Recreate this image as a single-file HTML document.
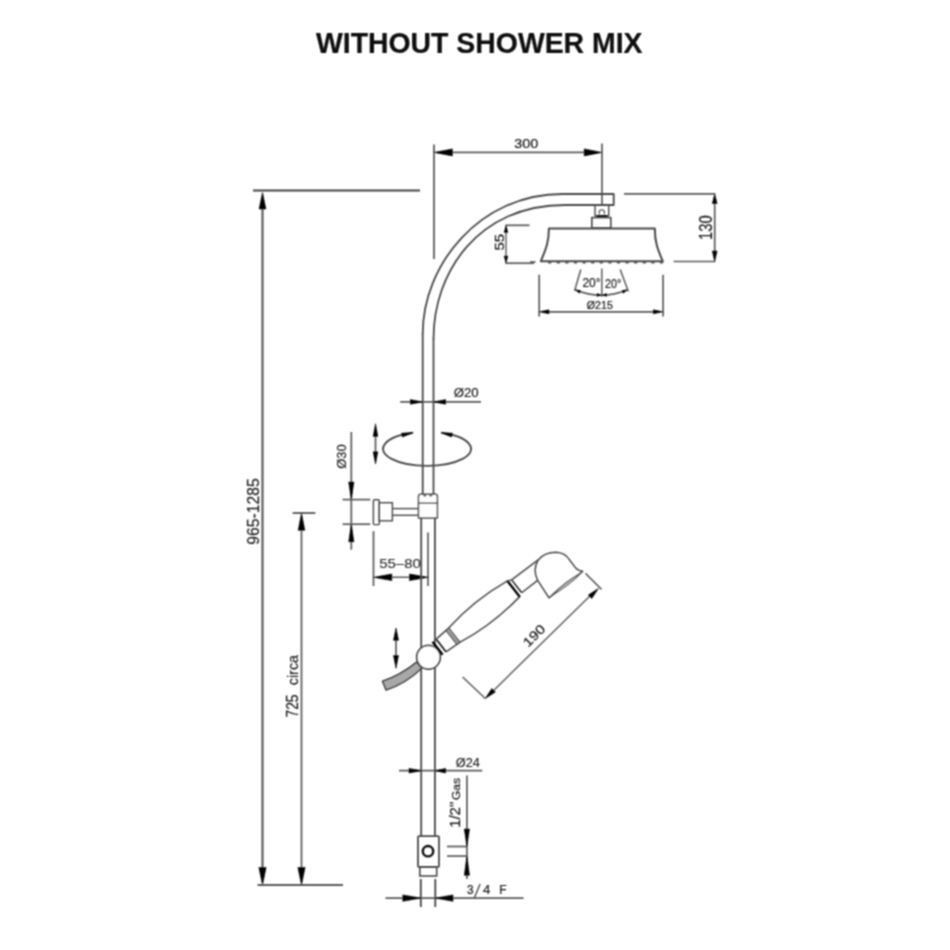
<!DOCTYPE html>
<html><head><meta charset="utf-8"><style>
html,body{margin:0;padding:0;background:#fff;width:950px;height:950px;overflow:hidden}
svg{display:block;font-family:"Liberation Sans",sans-serif}
</style></head><body>
<svg width="950" height="950" viewBox="0 0 950 950">
<rect width="950" height="950" fill="#fff"/>
<defs><filter id="sb" x="0" y="0" width="950" height="950" filterUnits="userSpaceOnUse"><feConvolveMatrix order="3" kernelMatrix="1 2 1 2 4 2 1 2 1" divisor="16" preserveAlpha="false"/></filter></defs>
<g filter="url(#sb)">
<text x="316" y="53" font-size="29.5" fill="#0a0a0a" text-anchor="start" font-weight="bold" font-style="normal" stroke="#0a0a0a" stroke-width="0.15" textLength="326.5" lengthAdjust="spacingAndGlyphs">WITHOUT SHOWER MIX</text>
<line x1="253" y1="190.5" x2="420" y2="190.5" stroke="#444" stroke-width="1.8"/>
<line x1="262.5" y1="200" x2="262.5" y2="875" stroke="#5c5c5c" stroke-width="2.2"/>
<polygon points="262.50,192.50 259.10,209.00 265.90,209.00" fill="#000" stroke="#000" stroke-width="0.6" stroke-linejoin="round"/>
<polygon points="262.50,885.00 266.10,867.40 258.90,867.40" fill="#000" stroke="#000" stroke-width="0.6" stroke-linejoin="round"/>
<line x1="257.5" y1="885" x2="343" y2="885" stroke="#5c5c5c" stroke-width="2.0"/>
<text x="258.9" y="511.5" font-size="17" fill="#1a1a1a" text-anchor="middle" font-weight="normal" font-style="normal" stroke="#1a1a1a" stroke-width="0.15" transform="rotate(-90 258.9 511.5)" textLength="66.3" lengthAdjust="spacingAndGlyphs">965-1285</text>
<line x1="292.6" y1="513" x2="315.4" y2="513" stroke="#5c5c5c" stroke-width="1.9"/>
<line x1="301.5" y1="525" x2="301.5" y2="875" stroke="#5a5a5a" stroke-width="1.7"/>
<polygon points="301.50,513.00 298.20,530.30 304.80,530.30" fill="#000" stroke="#000" stroke-width="0.6" stroke-linejoin="round"/>
<polygon points="301.50,885.00 305.10,867.40 297.90,867.40" fill="#000" stroke="#000" stroke-width="0.6" stroke-linejoin="round"/>
<text x="297.8" y="717.6" font-size="16" fill="#1a1a1a" text-anchor="start" font-weight="normal" font-style="normal" stroke="#1a1a1a" stroke-width="0.15" transform="rotate(-90 297.8 717.6)" textLength="23.2" lengthAdjust="spacingAndGlyphs">725</text>
<text x="297.8" y="685.2" font-size="14.5" fill="#1a1a1a" text-anchor="start" font-weight="normal" font-style="normal" stroke="#1a1a1a" stroke-width="0.15" transform="rotate(-90 297.8 685.2)" textLength="30.2" lengthAdjust="spacingAndGlyphs">circa</text>
<line x1="434" y1="144.5" x2="434" y2="259" stroke="#666" stroke-width="1.9"/>
<line x1="602" y1="143.5" x2="602" y2="205" stroke="#5c5c5c" stroke-width="1.7"/>
<line x1="440" y1="152.4" x2="596" y2="152.4" stroke="#5c5c5c" stroke-width="1.7"/>
<polygon points="434.00,152.40 452.40,155.90 452.40,148.90" fill="#000" stroke="#000" stroke-width="0.6" stroke-linejoin="round"/>
<polygon points="602.00,152.40 584.20,148.90 584.20,155.90" fill="#000" stroke="#000" stroke-width="0.6" stroke-linejoin="round"/>
<text x="526.3" y="148.3" font-size="13.5" fill="#1a1a1a" text-anchor="middle" font-weight="normal" font-style="normal" stroke="#1a1a1a" stroke-width="0.2" textLength="24" lengthAdjust="spacingAndGlyphs">300</text>
<path d="M 422.7 334.2 C 422.7 264 480.2 194 562.2 194 L 613.7 194 L 613.7 205 L 564.8 205 C 478.3 205 433.5 272.1 433.5 338.9" stroke="#4a4a4a" stroke-width="1.8" fill="none" stroke-linejoin="round" />
<line x1="422.7" y1="333.5" x2="422.7" y2="494.5" stroke="#4a4a4a" stroke-width="1.8"/>
<line x1="433.5" y1="338.2" x2="433.5" y2="494.5" stroke="#4a4a4a" stroke-width="1.8"/>
<rect x="595" y="205" width="13.7" height="10.8" rx="0" fill="none" stroke="#4a4a4a" stroke-width="1.4"/>
<path d="M 599.2 214.5 L 599.2 212.3 A 2.6 2.6 0 0 1 604.4 212.3 L 604.4 214.5" stroke="#4a4a4a" stroke-width="1.1" fill="none" stroke-linejoin="round" />
<line x1="596.5" y1="216.3" x2="607.5" y2="216.3" stroke="#111" stroke-width="2.6"/>
<rect x="591.8" y="217.6" width="19" height="10.4" rx="0" fill="none" stroke="#4a4a4a" stroke-width="1.6"/>
<path d="M 548.9 228.5 L 654.8 228.5 C 654.8 243 658 250 662.8 261.3 L 540.8 261.3 C 545.3 250 548.9 243 548.9 228.5 Z" stroke="#4a4a4a" stroke-width="2.0" fill="none" stroke-linejoin="round" />
<path d="M 548.1 262.6 L 551.3 262.6 M 556.7 262.6 L 559.9 262.6 M 565.3 262.6 L 568.5 262.6 M 573.9 262.6 L 577.1 262.6 M 582.5 262.6 L 585.7 262.6 M 591.1 262.6 L 594.3 262.6 M 599.7 262.6 L 602.9 262.6 M 608.3 262.6 L 611.5 262.6 M 616.9 262.6 L 620.1 262.6 M 625.5 262.6 L 628.7 262.6 M 634.1 262.6 L 637.3 262.6 M 642.7 262.6 L 645.9 262.6 M 651.3 262.6 L 654.5 262.6 M 659.9 262.6 L 663.1 262.6 " stroke="#555" stroke-width="1.6" fill="none" stroke-linejoin="round" />
<line x1="530" y1="262" x2="535.5" y2="262" stroke="#5c5c5c" stroke-width="1.7"/>
<line x1="673.6" y1="261.5" x2="715.3" y2="261.5" stroke="#5c5c5c" stroke-width="1.7"/>
<line x1="505.5" y1="225.3" x2="529.5" y2="225.3" stroke="#5c5c5c" stroke-width="1.7"/>
<line x1="505.5" y1="263.2" x2="534" y2="263.2" stroke="#5c5c5c" stroke-width="1.7"/>
<line x1="506" y1="228" x2="506" y2="260" stroke="#5c5c5c" stroke-width="1.4"/>
<polygon points="506.00,225.30 504.20,232.50 507.80,232.50" fill="#000" stroke="#000" stroke-width="0.6" stroke-linejoin="round"/>
<polygon points="506.00,263.20 507.80,256.00 504.20,256.00" fill="#000" stroke="#000" stroke-width="0.6" stroke-linejoin="round"/>
<text x="504.2" y="242.25" font-size="13" fill="#1a1a1a" text-anchor="middle" font-weight="normal" font-style="normal" stroke="#1a1a1a" stroke-width="0.2" transform="rotate(-90 504.2 242.25)" textLength="16.5" lengthAdjust="spacingAndGlyphs">55</text>
<line x1="624" y1="193.9" x2="715.3" y2="193.9" stroke="#5c5c5c" stroke-width="1.7"/>
<line x1="714.7" y1="200" x2="714.7" y2="255" stroke="#5c5c5c" stroke-width="1.7"/>
<polygon points="714.70,193.90 712.30,203.60 717.10,203.60" fill="#000" stroke="#000" stroke-width="0.6" stroke-linejoin="round"/>
<polygon points="714.70,261.50 717.10,251.00 712.30,251.00" fill="#000" stroke="#000" stroke-width="0.6" stroke-linejoin="round"/>
<text x="712.4" y="227.6" font-size="17.5" fill="#1a1a1a" text-anchor="middle" font-weight="normal" font-style="normal" stroke="#1a1a1a" stroke-width="0.15" transform="rotate(-90 712.4 227.6)" textLength="24.8" lengthAdjust="spacingAndGlyphs">130</text>
<line x1="601.8" y1="268.4" x2="601.8" y2="296.8" stroke="#5c5c5c" stroke-width="1.5"/>
<line x1="580.8" y1="269.5" x2="574.6" y2="290.8" stroke="#5c5c5c" stroke-width="1.5"/>
<line x1="620.2" y1="269.5" x2="628.4" y2="291.6" stroke="#5c5c5c" stroke-width="1.5"/>
<path d="M 575 289.7 Q 601.4 300.7 627.5 289.7" stroke="#5c5c5c" stroke-width="1.5" fill="none" stroke-linejoin="round" />
<polygon points="575.60,290.00 579.44,293.19 580.56,290.61" fill="#000" stroke="#000" stroke-width="0.6" stroke-linejoin="round"/>
<polygon points="601.20,295.20 597.10,293.50 596.90,296.30" fill="#000" stroke="#000" stroke-width="0.6" stroke-linejoin="round"/>
<polygon points="602.40,295.20 606.70,296.30 606.50,293.50" fill="#000" stroke="#000" stroke-width="0.6" stroke-linejoin="round"/>
<polygon points="627.00,290.00 622.04,290.61 623.16,293.19" fill="#000" stroke="#000" stroke-width="0.6" stroke-linejoin="round"/>
<text x="591.5" y="287.4" font-size="13" fill="#1a1a1a" text-anchor="middle" font-weight="normal" font-style="normal" stroke="#1a1a1a" stroke-width="0.2" textLength="18" lengthAdjust="spacingAndGlyphs">20°</text>
<text x="613.2" y="288" font-size="13" fill="#1a1a1a" text-anchor="middle" font-weight="normal" font-style="normal" stroke="#1a1a1a" stroke-width="0.2" textLength="16.2" lengthAdjust="spacingAndGlyphs">20°</text>
<line x1="539.2" y1="274.7" x2="539.2" y2="316.6" stroke="#5c5c5c" stroke-width="1.7"/>
<line x1="663.1" y1="274.7" x2="663.1" y2="316.6" stroke="#5c5c5c" stroke-width="1.7"/>
<line x1="545" y1="311.8" x2="657" y2="311.8" stroke="#5c5c5c" stroke-width="1.7"/>
<polygon points="539.20,311.80 549.00,313.80 549.00,309.80" fill="#000" stroke="#000" stroke-width="0.6" stroke-linejoin="round"/>
<polygon points="663.10,311.80 653.30,309.80 653.30,313.80" fill="#000" stroke="#000" stroke-width="0.6" stroke-linejoin="round"/>
<text x="599.8" y="308.7" font-size="10.5" fill="#1a1a1a" text-anchor="middle" font-weight="normal" font-style="normal" stroke="#1a1a1a" stroke-width="0.2" textLength="26" lengthAdjust="spacingAndGlyphs">Ø215</text>
<line x1="400.2" y1="401.9" x2="481" y2="401.9" stroke="#5c5c5c" stroke-width="1.7"/>
<polygon points="422.70,401.90 410.30,399.60 410.30,404.20" fill="#000" stroke="#000" stroke-width="0.6" stroke-linejoin="round"/>
<polygon points="433.60,401.90 445.70,404.20 445.70,399.60" fill="#000" stroke="#000" stroke-width="0.6" stroke-linejoin="round"/>
<text x="466.1" y="397.3" font-size="13.5" fill="#1a1a1a" text-anchor="middle" font-weight="normal" font-style="normal" stroke="#1a1a1a" stroke-width="0.15" textLength="24.9" lengthAdjust="spacingAndGlyphs">Ø20</text>
<path d="M 412.8 432.8 A 44 17 0 1 0 441.3 432.8" stroke="#4a4a4a" stroke-width="1.9" fill="none" stroke-linejoin="round" />
<polygon points="413.20,432.70 401.58,433.14 402.42,437.06" fill="#000" stroke="#000" stroke-width="0.6" stroke-linejoin="round"/>
<polygon points="441.00,432.70 451.57,437.05 452.43,433.15" fill="#000" stroke="#000" stroke-width="0.6" stroke-linejoin="round"/>
<line x1="375.5" y1="430" x2="375.5" y2="458" stroke="#5c5c5c" stroke-width="1.7"/>
<polygon points="375.50,423.80 373.20,436.40 377.80,436.40" fill="#000" stroke="#000" stroke-width="0.6" stroke-linejoin="round"/>
<polygon points="375.50,464.00 377.80,451.80 373.20,451.80" fill="#000" stroke="#000" stroke-width="0.6" stroke-linejoin="round"/>
<line x1="351.3" y1="432" x2="351.3" y2="549.7" stroke="#5a5a5a" stroke-width="1.7"/>
<polygon points="351.30,499.70 353.90,482.00 348.70,482.00" fill="#000" stroke="#000" stroke-width="0.6" stroke-linejoin="round"/>
<polygon points="351.30,524.20 348.70,541.80 353.90,541.80" fill="#000" stroke="#000" stroke-width="0.6" stroke-linejoin="round"/>
<line x1="342.5" y1="499.6" x2="370.3" y2="499.6" stroke="#5c5c5c" stroke-width="1.7"/>
<line x1="342.5" y1="524.2" x2="370.3" y2="524.2" stroke="#5c5c5c" stroke-width="1.7"/>
<text x="346.5" y="456.6" font-size="13.5" fill="#1a1a1a" text-anchor="middle" font-weight="normal" font-style="normal" stroke="#1a1a1a" stroke-width="0.15" transform="rotate(-90 346.5 456.6)" textLength="24.3" lengthAdjust="spacingAndGlyphs">Ø30</text>
<rect x="373.4" y="499.8" width="5.9" height="24.8" rx="1.2" fill="none" stroke="#4a4a4a" stroke-width="1.4"/>
<rect x="379.3" y="502.7" width="13.1" height="18.1" rx="0" fill="none" stroke="#4a4a4a" stroke-width="1.4"/>
<line x1="392.4" y1="508.6" x2="418.5" y2="508.6" stroke="#4a4a4a" stroke-width="1.4"/>
<line x1="392.4" y1="515.3" x2="418.5" y2="515.3" stroke="#4a4a4a" stroke-width="1.4"/>
<path d="M 418.5 518 L 418.5 496.5 Q 418.5 494.3 420.7 494.3 L 435.2 494.3 Q 437.4 494.3 437.4 496.5 L 437.4 518 Z" stroke="#4a4a4a" stroke-width="1.5" fill="#fff" stroke-linejoin="round" />
<line x1="418.5" y1="503.2" x2="437.4" y2="503.2" stroke="#4a4a4a" stroke-width="1.4"/>
<path d="M 423.3 494.5 Q 424.8 497.6 426.3 494.5 M 429.2 494.5 Q 430.7 497.6 432.2 494.5" stroke="#4a4a4a" stroke-width="1.3" fill="none" stroke-linejoin="round" />
<line x1="373.5" y1="531.2" x2="373.5" y2="586" stroke="#5c5c5c" stroke-width="1.7"/>
<line x1="428" y1="532.4" x2="428" y2="586" stroke="#5c5c5c" stroke-width="1.7"/>
<line x1="380" y1="577.3" x2="422" y2="577.3" stroke="#5c5c5c" stroke-width="1.4"/>
<polygon points="373.50,577.30 391.80,580.60 391.80,574.00" fill="#000" stroke="#000" stroke-width="0.6" stroke-linejoin="round"/>
<polygon points="428.40,577.30 409.50,574.00 409.50,580.60" fill="#000" stroke="#000" stroke-width="0.6" stroke-linejoin="round"/>
<text x="400" y="568.4" font-size="13.5" fill="#2a2a2a" text-anchor="middle" font-weight="normal" font-style="normal" stroke="#2a2a2a" stroke-width="0.1" textLength="41.6" lengthAdjust="spacingAndGlyphs">55–80</text>
<line x1="421.2" y1="518" x2="421.2" y2="836" stroke="#4a4a4a" stroke-width="1.8"/>
<line x1="434.9" y1="518" x2="434.9" y2="836" stroke="#4a4a4a" stroke-width="1.8"/>
<path d="M 416.7 662.2 Q 401 675 382.5 681.3 L 386 690 Q 406 683.5 421.9 668 Z" stroke="#3a3a3a" stroke-width="1.5" fill="#a8a8a8" stroke-linejoin="round" />
<circle cx="428.5" cy="657.2" r="11.8" fill="#fff" stroke="#4a4a4a" stroke-width="1.8"/>
<line x1="396" y1="635" x2="396" y2="662" stroke="#5a5a5a" stroke-width="1.7"/>
<polygon points="396.00,628.00 393.50,640.30 398.50,640.30" fill="#000" stroke="#000" stroke-width="0.6" stroke-linejoin="round"/>
<polygon points="396.00,668.30 398.50,655.50 393.50,655.50" fill="#000" stroke="#000" stroke-width="0.6" stroke-linejoin="round"/>
<line x1="399" y1="770.7" x2="482.3" y2="770.7" stroke="#5c5c5c" stroke-width="1.7"/>
<polygon points="421.50,770.70 409.00,768.40 409.00,773.00" fill="#000" stroke="#000" stroke-width="0.6" stroke-linejoin="round"/>
<polygon points="434.90,770.70 445.70,773.00 445.70,768.40" fill="#000" stroke="#000" stroke-width="0.6" stroke-linejoin="round"/>
<text x="467.8" y="767.2" font-size="12.5" fill="#1a1a1a" text-anchor="middle" font-weight="normal" font-style="normal" stroke="#1a1a1a" stroke-width="0.15" textLength="24" lengthAdjust="spacingAndGlyphs">Ø24</text>
<line x1="466.9" y1="775.4" x2="466.9" y2="879" stroke="#5c5c5c" stroke-width="1.7"/>
<polygon points="466.90,846.50 469.50,829.00 464.30,829.00" fill="#000" stroke="#000" stroke-width="0.6" stroke-linejoin="round"/>
<polygon points="466.90,856.10 464.30,875.30 469.50,875.30" fill="#000" stroke="#000" stroke-width="0.6" stroke-linejoin="round"/>
<line x1="447" y1="846.5" x2="467.7" y2="846.5" stroke="#5c5c5c" stroke-width="1.7"/>
<line x1="447" y1="856.1" x2="467.7" y2="856.1" stroke="#5c5c5c" stroke-width="1.7"/>
<text x="460.2" y="827.8" font-size="15" fill="#1a1a1a" text-anchor="start" font-weight="normal" font-style="normal" stroke="#1a1a1a" stroke-width="0.2" transform="rotate(-90 460.2 827.8)" textLength="26" lengthAdjust="spacingAndGlyphs">1/2"</text>
<text x="460.2" y="799.9" font-size="11" fill="#1a1a1a" text-anchor="start" font-weight="normal" font-style="normal" stroke="#1a1a1a" stroke-width="0.2" transform="rotate(-90 460.2 799.9)" textLength="21.9" lengthAdjust="spacingAndGlyphs">Gas</text>
<rect x="418" y="836.2" width="21" height="30.7" rx="1" fill="none" stroke="#4a4a4a" stroke-width="1.8"/>
<circle cx="428" cy="851.2" r="5.2" fill="none" stroke="#111" stroke-width="2.4"/>
<rect x="419.8" y="866.9" width="16.9" height="9.1" rx="0" fill="none" stroke="#4a4a4a" stroke-width="1.6"/>
<line x1="420.8" y1="879" x2="420.8" y2="907" stroke="#444" stroke-width="1.8"/>
<line x1="435.3" y1="879" x2="435.3" y2="907" stroke="#444" stroke-width="1.8"/>
<line x1="385.5" y1="898.1" x2="523.6" y2="898.1" stroke="#5c5c5c" stroke-width="1.9"/>
<polygon points="420.80,898.10 402.80,894.90 402.80,901.30" fill="#000" stroke="#000" stroke-width="0.6" stroke-linejoin="round"/>
<polygon points="435.30,898.10 453.00,901.30 453.00,894.90" fill="#000" stroke="#000" stroke-width="0.6" stroke-linejoin="round"/>
<text x="470.3" y="893.7" font-size="12.5" fill="#1a1a1a" text-anchor="middle" font-weight="normal" font-style="normal" stroke="#1a1a1a" stroke-width="0.2" textLength="6.6" lengthAdjust="spacingAndGlyphs">3</text>
<text x="486.7" y="893.7" font-size="12.5" fill="#1a1a1a" text-anchor="middle" font-weight="normal" font-style="normal" stroke="#1a1a1a" stroke-width="0.2" textLength="7.4" lengthAdjust="spacingAndGlyphs">4</text>
<text x="503" y="893.7" font-size="12.5" fill="#1a1a1a" text-anchor="middle" font-weight="normal" font-style="normal" stroke="#1a1a1a" stroke-width="0.2" textLength="7.3" lengthAdjust="spacingAndGlyphs">F</text>
<line x1="480.1" y1="884" x2="474.3" y2="898" stroke="#444" stroke-width="1.3"/>
<g transform="matrix(0.7877 -0.6155 0.6155 0.7877 454.5 635)">
<line x1="-21.5" y1="-8.2" x2="-21.5" y2="8.2" stroke="#000" stroke-width="2.4"/>
<line x1="-17" y1="-8.2" x2="-17" y2="8.2" stroke="#111" stroke-width="1.6"/>
<line x1="-17" y1="-8" x2="0" y2="-9.1" stroke="#4a4a4a" stroke-width="1.5"/>
<line x1="-17" y1="8" x2="0" y2="9.1" stroke="#4a4a4a" stroke-width="1.5"/>
<rect x="-4" y="-9" width="4" height="18" fill="#9a9a9a" stroke="#444" stroke-width="1"/>
<path d="M 0 -9.1 C 25 -13.5 50 -13.5 75 -10" stroke="#4a4a4a" stroke-width="1.5" fill="none" stroke-linejoin="round" />
<path d="M 0 9.1 C 25 13.5 50 13.5 75 9.9" stroke="#4a4a4a" stroke-width="1.5" fill="none" stroke-linejoin="round" />
<line x1="75" y1="-10.3" x2="75" y2="10.3" stroke="#000" stroke-width="2.3"/>
<line x1="79" y1="-8.3" x2="79" y2="8.1" stroke="#222" stroke-width="1.5"/>
<line x1="75" y1="-10" x2="79" y2="-8.3" stroke="#4a4a4a" stroke-width="1.4"/>
<line x1="79" y1="-8.3" x2="112.2" y2="-7.6" stroke="#4a4a4a" stroke-width="1.5"/>
<line x1="79" y1="8.1" x2="99.2" y2="8.1" stroke="#4a4a4a" stroke-width="1.5"/>
</g>
<path d="M 538.2 559.9 C 542 555.5 548 552.3 556 552.3 C 563 552.5 567 555.5 570 560.5 L 576 568.4 Q 579 571 582.7 571.3 L 549 597.8 L 537.7 580.3 Q 532.3 570 538.2 559.9 Z" stroke="#4a4a4a" stroke-width="1.5" fill="none" stroke-linejoin="round" />
<path d="M 551.5 595.5 Q 566 581 580.5 573.5 Q 570 585 551.5 595.5 Z" stroke="#555" stroke-width="1.1" fill="#bbb" stroke-linejoin="round" />
<line x1="462.6" y1="677" x2="485.3" y2="698.5" stroke="#5c5c5c" stroke-width="1.5"/>
<line x1="585.5" y1="573.4" x2="601.5" y2="589.4" stroke="#5c5c5c" stroke-width="1.5"/>
<line x1="490" y1="694" x2="593" y2="593" stroke="#5c5c5c" stroke-width="1.4"/>
<polygon points="485.30,698.50 495.36,692.08 491.84,688.52" fill="#000" stroke="#000" stroke-width="0.6" stroke-linejoin="round"/>
<polygon points="598.40,588.50 588.24,595.02 591.76,598.58" fill="#000" stroke="#000" stroke-width="0.6" stroke-linejoin="round"/>
<text x="537.2" y="638.8" font-size="13" fill="#1a1a1a" text-anchor="middle" font-weight="normal" font-style="normal" stroke="#1a1a1a" stroke-width="0.2" transform="rotate(-45 537.2 638.8)" textLength="25" lengthAdjust="spacingAndGlyphs">190</text>
</g>
</svg></body></html>
